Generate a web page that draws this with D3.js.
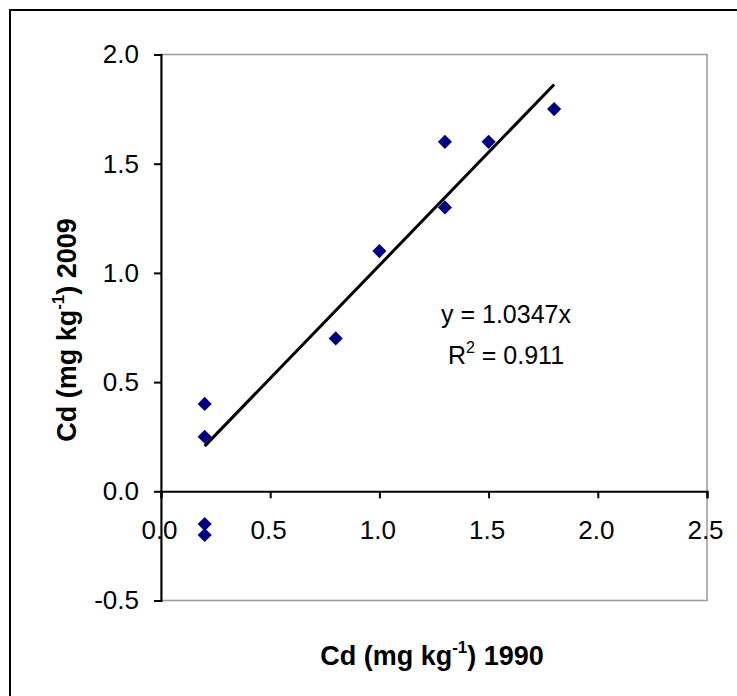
<!DOCTYPE html>
<html>
<head>
<meta charset="utf-8">
<script src="https://cdn.jsdelivr.net/npm/d3@7/dist/d3.min.js"></script>
<style>
  html, body { margin: 0; padding: 0; background: #fff; }
  svg { display: block; font-family: "Liberation Sans", Arial, sans-serif; }
</style>
</head>
<body>
<div id="chart"></div>
<script>
// Cd 1990 vs 2009 scatter with trend line through origin
const cd1990 = [0.2, 0.2, 0.2, 0.2, 0.8, 1.0, 1.3, 1.3, 1.5, 1.8];
const cd2009 = [0.4, 0.25, -0.15, -0.2, 0.7, 1.1, 1.6, 1.3, 1.6, 1.75];
const slope = 1.0347;
const trendX = [0.2, 1.8];
const xTicks = [0, 0.5, 1.0, 1.5, 2.0, 2.5];
const yTicks = [-0.5, 0, 0.5, 1.0, 1.5, 2.0];

(function () {
    const W = 737, H = 696;
    const FONT = "'Liberation Sans', Arial, sans-serif";
    const svg = d3.select("#chart").append("svg").attr("width", W).attr("height", H);

    // outer frame (only top & left show, like the cropped source)
    svg.append("path").attr("d", `M10,${H} V10 H${W}`)
        .attr("fill", "none").attr("stroke", "#000").attr("stroke-width", 2);

    const x = d3.scaleLinear().domain([0, 2.5]).range([161, 707]);
    const y = d3.scaleLinear().domain([-0.5, 2.0]).range([600.5, 54.5]);
    const fmt = v => d3.format(".1f")(v).replace("−", "-");

    // plot area border (grey)
    svg.append("rect").attr("x", x(0)).attr("y", y(2)).attr("width", x(2.5) - x(0)).attr("height", y(-0.5) - y(2))
        .attr("fill", "none").attr("stroke", "#999").attr("stroke-width", 1.5);

    // y axis
    const yAxis = svg.append("g").attr("transform", `translate(${x(0)},0)`)
        .call(d3.axisLeft(y).tickValues(yTicks).tickFormat(fmt).tickSize(7).tickPadding(15));
    // x axis at y = 0
    const xAxis = svg.append("g").attr("transform", `translate(0,${y(0)})`)
        .call(d3.axisBottom(x).tickValues(xTicks).tickFormat(fmt).tickSize(7).tickPadding(22));
    [xAxis, yAxis].forEach(a => {
        a.attr("font-size", null).attr("font-family", null);
        a.select(".domain").attr("stroke", "#000").attr("stroke-width", 2);
        a.selectAll(".tick line").attr("stroke", "#000").attr("stroke-width", 2);
        a.selectAll(".tick text").attr("font-size", 26).attr("fill", "#000").style("font-family", FONT);
    });
    xAxis.selectAll(".tick text").attr("dx", -2);

    // trend line
    svg.append("line")
        .attr("x1", x(trendX[0])).attr("y1", y(trendX[0] * slope))
        .attr("x2", x(trendX[1])).attr("y2", y(trendX[1] * slope))
        .attr("stroke", "#000").attr("stroke-width", 3);

    // diamonds
    const diamond = d3.symbol().type(d3.symbolSquare).size(100);
    svg.append("g").selectAll("path")
        .data(cd1990.map((v, i) => [v, cd2009[i]]))
        .enter().append("path")
        .attr("d", diamond)
        .attr("fill", "#000080")
        .attr("transform", d => `translate(${x(d[0])},${y(d[1])}) rotate(45)`);

    // equation
    const eq = svg.append("g").attr("font-size", 25).attr("fill", "#000").attr("text-anchor", "middle");
    eq.append("text").attr("x", 506).attr("y", 323).text("y = 1.0347x");
    const r2 = eq.append("text").attr("x", 506).attr("y", 364);
    r2.append("tspan").text("R");
    r2.append("tspan").attr("font-size", 16).attr("dy", -11).text("2");
    r2.append("tspan").attr("dy", 11).text(" = 0.911");

    // axis titles
    const xt = svg.append("text").attr("x", 432).attr("y", 665).attr("text-anchor", "middle")
        .attr("font-size", 27).attr("font-weight", "bold");
    xt.append("tspan").text("Cd (mg kg");
    xt.append("tspan").attr("font-size", 17).attr("dy", -12).text("-1");
    xt.append("tspan").attr("dy", 12).text(") 1990");

    const yt = svg.append("text").attr("transform", "translate(76,330) rotate(-90)").attr("text-anchor", "middle")
        .attr("font-size", 27).attr("font-weight", "bold");
    yt.append("tspan").text("Cd (mg kg");
    yt.append("tspan").attr("font-size", 17).attr("dy", -12).text("-1");
    yt.append("tspan").attr("dy", 12).text(") 2009");
})();
</script>
</body>
</html>
